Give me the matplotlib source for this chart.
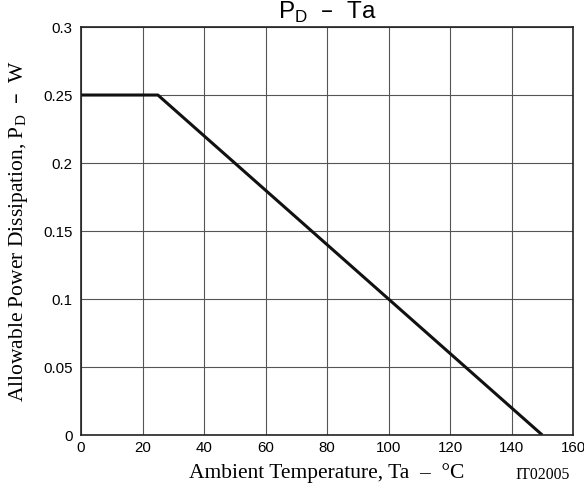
import matplotlib.pyplot as plt
import matplotlib.ticker as mticker

# Derating curve: Allowable power dissipation vs ambient temperature
ta = [0, 25, 150]
pd_w = [0.25, 0.25, 0.0]

x_ticks = [0, 20, 40, 60, 80, 100, 120, 140, 160]
y_ticks = [0, 0.05, 0.1, 0.15, 0.2, 0.25, 0.3]
y_labels = ['0', '0.05', '0.1', '0.15', '0.2', '0.25', '0.3']

fig = plt.figure(figsize=(5.84, 4.95), dpi=100)
ax = fig.add_axes([0.1387, 0.1212, 0.8425, 0.8242])

ax.plot(ta, pd_w, color='#111111', linewidth=2.2, solid_capstyle='butt')

ax.set_xlim(0, 160)
ax.set_ylim(0, 0.3)
ax.set_xticks(x_ticks)
ax.set_yticks(y_ticks)
ax.yaxis.set_major_formatter(mticker.FixedFormatter(y_labels))
ax.tick_params(length=0, labelsize=10.8)
ax.tick_params(axis='y', pad=6)
ax.tick_params(axis='x', pad=4)
for lab in ax.get_xticklabels() + ax.get_yticklabels():
    lab.set_fontfamily('Liberation Sans')

ax.grid(True, color='#555555', linewidth=0.8)
ax.set_axisbelow(True)
for s in ax.spines.values():
    s.set_linewidth(1.2)
    s.set_color('#222222')

ax.set_title('P$_\\mathregular{D}$  –  Ta', fontfamily='Liberation Sans', fontsize=17.5, pad=6)
ax.set_xlabel('Ambient Temperature, Ta  –  °C', fontfamily='Liberation Serif', fontsize=15.5, va='center')
ax.set_ylabel('Allowable Power Dissipation, P$_\\mathregular{D}$  –  W', fontfamily='Liberation Serif',
              fontsize=15.5, va='center')
ax.xaxis.set_label_coords(0.5, -0.093)
ax.yaxis.set_label_coords(-0.128, 0.5)
fig.text(0.976, 0.0404, 'IT02005', ha='right', va='center', fontfamily='Liberation Serif', fontsize=11.3)

fig.savefig('out.png', dpi=100)
